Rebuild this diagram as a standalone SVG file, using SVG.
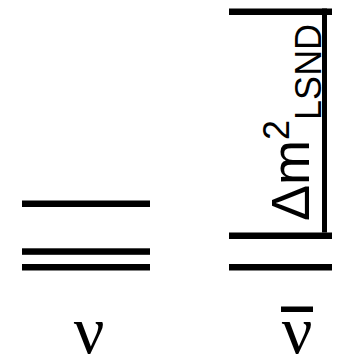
<svg xmlns="http://www.w3.org/2000/svg" width="346" height="359" viewBox="0 0 346 359">
<style>
.lvl{fill:#000}
.nu{font-family:"Liberation Serif","DejaVu Serif",serif;font-size:68px;fill:#000;text-anchor:middle}
.lbl{font-family:"Liberation Sans",Arial,sans-serif;font-size:54px;fill:#000}
.sm{font-size:36px}
</style>
<rect width="346" height="359" fill="#fff"/>
<g id="nu">
<rect class="lvl" x="22" y="200.5" width="128" height="6.5"/>
<rect class="lvl" x="22" y="248.3" width="128" height="6.5"/>
<rect class="lvl" x="22" y="264" width="128" height="6.5"/>
<text class="nu" x="89" y="353">ν</text>
</g>
<g id="nubar">
<rect class="lvl" x="229" y="8.5" width="103" height="6.5"/>
<rect class="lvl" x="229" y="232.5" width="103" height="6.5"/>
<rect class="lvl" x="229" y="264" width="103" height="6.5"/>
<rect class="lvl" x="281" y="306.5" width="32" height="5.5"/>
<text class="nu" x="297" y="353">ν</text>
</g>
<g id="connectors">
<rect class="lvl" x="322" y="8.5" width="5" height="224"/>
<text class="lbl" transform="translate(309,221) rotate(-90)">Δm<tspan class="sm" dy="-20">2</tspan><tspan class="sm" dy="32">LSND</tspan></text>
</g>
</svg>
